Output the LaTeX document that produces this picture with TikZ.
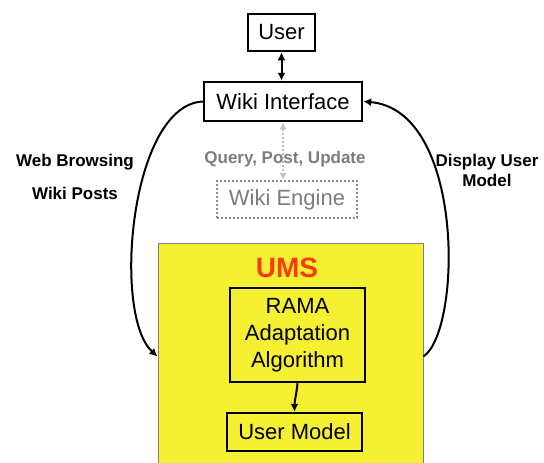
\documentclass[tikz,border=0pt]{standalone}
\usepackage{fontspec}
\setmainfont{Liberation Sans}
\usetikzlibrary{arrows.meta}
\definecolor{umsyellow}{RGB}{245,240,50}
\definecolor{umsred}{RGB}{250,60,10}
\definecolor{lightgr}{RGB}{192,192,192}
\definecolor{textgr}{RGB}{125,125,125}
\definecolor{enggr}{RGB}{140,140,140}
\tikzset{
  box/.style={draw=black, line width=2.5pt, fill=white, inner sep=0pt, font=\fontsize{22}{26}\selectfont},
  yellowbox/.style={draw=gray, line width=1pt, fill=umsyellow, inner sep=0pt},
  enginebox/.style={draw=enggr, line width=2pt, dash pattern=on 2pt off 2pt, inner sep=0pt, text=textgr, font=\fontsize{22}{26}\selectfont},
  lbl/.style={font=\bfseries\fontsize{17}{20}\selectfont, inner sep=0pt},
  arr/.style={line width=2pt, -{Latex[length=8pt,width=8pt]}},
  darr/.style={line width=2pt, {Latex[length=8pt,width=8pt]}-{Latex[length=8pt,width=8pt]}},
  dotarr/.style={line width=2pt, draw=lightgr, dash pattern=on 2pt off 2pt, {Latex[length=7pt,width=7pt]}-{Latex[length=7pt,width=7pt]}}
}
\begin{document}
\begin{tikzpicture}[x=1pt,y=-1pt]
\clip (0,0) rectangle (544,463);
\useasboundingbox (0,0) rectangle (544,463);
\fill[white] (0,0) rectangle (544,463);
% UMS container
\node[yellowbox, minimum width=265pt, minimum height=227pt] (umsbox) at (290.5,356.5) {};
\node[font=\bfseries\fontsize{28}{32}\selectfont, text=umsred, inner sep=0pt] (ums) at (287,268) {UMS};
% boxes
\node[box, minimum width=67pt, minimum height=37pt] (user) at (281.5,32.5) {User};
\node[box, minimum width=158pt, minimum height=39pt] (wi) at (283,101.5) {Wiki Interface};
\node[enginebox, minimum width=140pt, minimum height=37pt] (we) at (287,199.5) {Wiki Engine};
\node[box, fill=umsyellow, minimum width=135pt, minimum height=94pt, align=center, font=\fontsize{22}{27}\selectfont] (rama) at (297.5,335) {RAMA\\Adaptation\\Algorithm};
\node[box, fill=umsyellow, minimum width=135pt, minimum height=38pt] (um) at (294.5,432) {User Model};
% labels
\node[lbl, text=textgr] (qpu) at (285,159) {Query, Post, Update};
\node[lbl] (web) at (75,162) {Web Browsing};
\node[lbl] (wp) at (75,193) {Wiki Posts};
\node[lbl, align=center, font=\bfseries\fontsize{17}{20}\selectfont] (dum) at (487,170) {Display User\\Model};
% connectors
\draw[darr] (user.south) -- (user.south |- wi.north);
\draw[dotarr] (wi.south) -- (wi.south |- we.north);
\draw[arr] (wi.west) .. controls (130,105) and (112,315) .. (umsbox.west);
\draw[arr] (umsbox.east) .. controls (462,330) and (465,110) .. (wi.east);
\draw[arr] (rama.south) to[out=-95,in=90] (um.north);
\end{tikzpicture}
\end{document}
